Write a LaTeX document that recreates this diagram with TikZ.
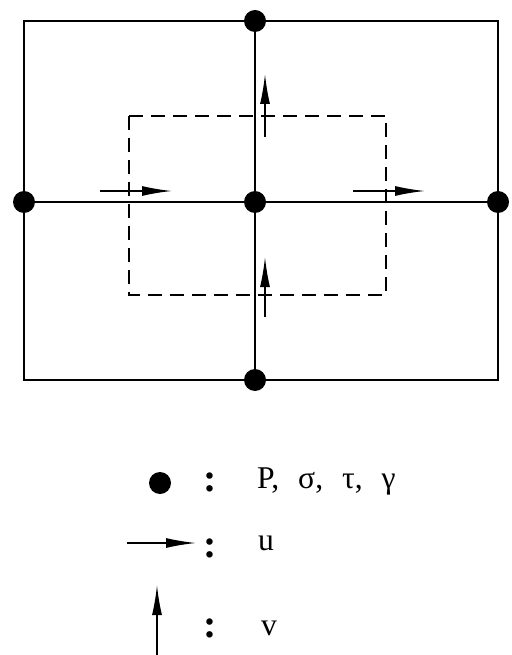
\documentclass[tikz,border=0pt]{standalone}
\usepackage{fontspec}
\setmainfont{Liberation Serif}
\usetikzlibrary{arrows.meta}

\tikzset{
  dot/.style={circle, fill=black, inner sep=0pt, minimum size=6.6mm},
  keytext/.style={anchor=base west, inner sep=0pt, font=\fontsize{27}{31}\selectfont},
  colon/.style={inner sep=0pt, font=\fontsize{34}{38}\selectfont\bfseries},
}

\begin{document}
\begin{tikzpicture}[x=0.3mm, y=-0.3mm, >={Latex[length=9mm,width=3mm]}]
\useasboundingbox (0,0) rectangle (511,655);

% pressure/stress points
\node[dot] (n) at (255,21) {};
\node[dot] (w) at (24,202) {};
\node[dot] (c) at (255,202) {};
\node[dot] (e) at (498,202) {};
\node[dot] (s) at (255,380) {};

\begin{scope}[line width=1.6pt]
\draw (24,21) rectangle (498,380);
\draw (n) -- (c) -- (s);
\draw (w) -- (c) -- (e);
\draw [dash pattern=on 4.2mm off 2.4mm] (129,116) rectangle (386,295);
\end{scope}

% velocity points
\coordinate (u1) at (100,191);
\coordinate (u2) at (353,191);
\coordinate (v1) at (265,137);
\coordinate (v2) at (265,317);

\begin{scope}[line width=1.4pt,->]
\draw (u1) -- ++(72,0);
\draw (u2) -- ++(72,0);
\draw (v1) -- ++(0,-63);
\draw (v2) -- ++(0,-60);
\end{scope}

% legend
\node[dot] (kp) at (160,483) {};
\coordinate (ku) at (127,543);
\coordinate (kv) at (157,655);
\draw [line width=1.4pt,->] (ku) -- ++(69,0);
\draw [line width=1.4pt,->] (kv) -- ++(0,-70);

\node[colon] (c1) at (210,482) {:};
\node[colon] (c2) at (210,548) {:};
\node[colon] (c3) at (210,628) {:};

\node[keytext] (tp) at (257,488) {P,\hspace{.6em}σ,\hspace{.6em}τ,\hspace{.6em}γ};
\node[keytext] (tu) at (258,550) {u};
\node[keytext] (tv) at (261,635) {v};

\end{tikzpicture}
\end{document}
